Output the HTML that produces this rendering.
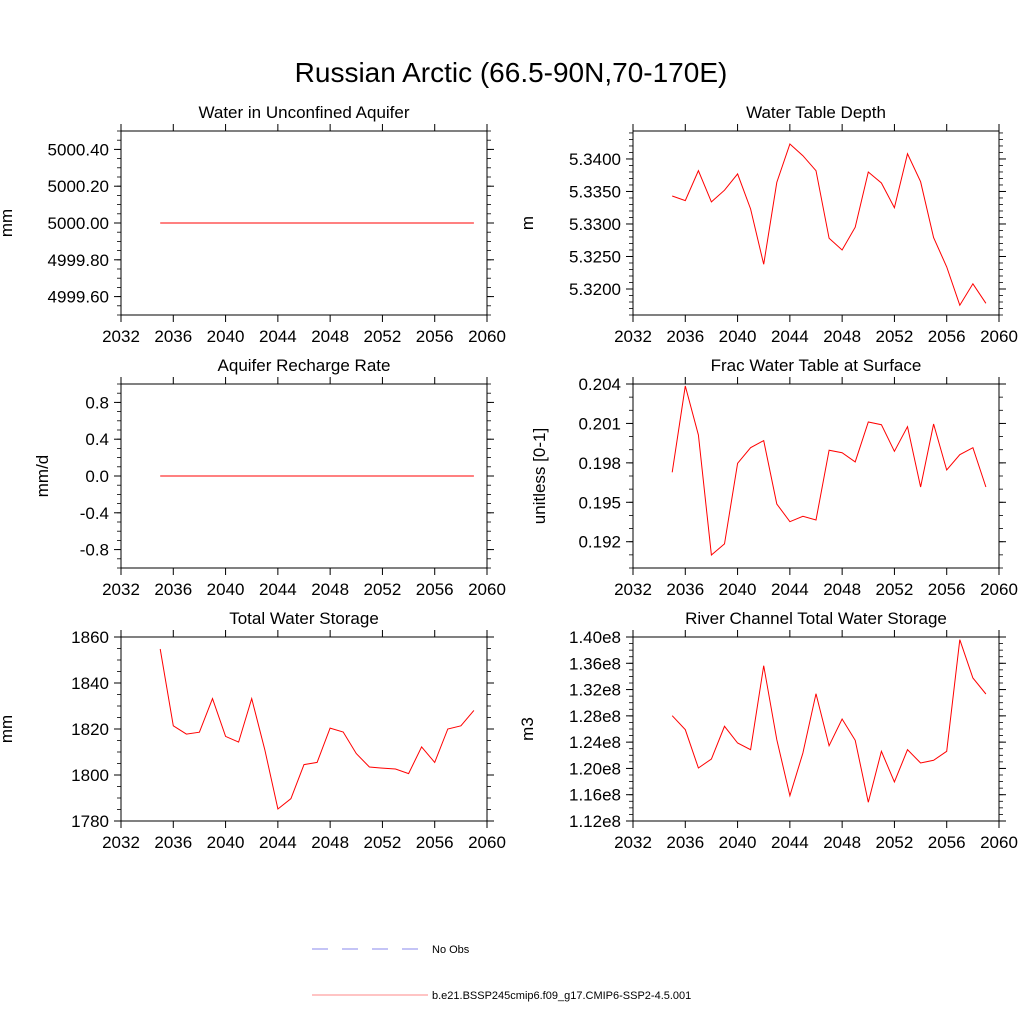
<!DOCTYPE html>
<html><head><meta charset="utf-8"><style>
html,body{margin:0;padding:0;background:#fff;}
svg{display:block;font-family:"Liberation Sans",sans-serif;}
</style></head><body>
<svg id="chart" width="1024" height="1024" viewBox="0 0 1024 1024" xmlns="http://www.w3.org/2000/svg">
<rect width="1024" height="1024" fill="#fff"/>
<text x="511" y="82" font-size="28" text-anchor="middle">Russian Arctic (66.5-90N,70-170E)</text>
<g>
<line x1="312" y1="949" x2="418" y2="949" stroke="#8888ee" stroke-width="1" stroke-dasharray="16,14"/>
<text x="432" y="953" font-size="11">No Obs</text>
<line x1="312" y1="995" x2="428" y2="995" stroke="#f88" stroke-width="1"/>
<text x="432" y="999" font-size="11">b.e21.BSSP245cmip6.f09_g17.CMIP6-SSP2-4.5.001</text>
</g>
</svg>
<script>
const years = [2035,2036,2037,2038,2039,2040,2041,2042,2043,2044,2045,2046,2047,2048,2049,2050,2051,2052,2053,2054,2055,2056,2057,2058,2059];
const xTicks = [2032,2036,2040,2044,2048,2052,2056,2060];
const aquiferValues = [5000,5000,5000,5000,5000,5000,5000,5000,5000,5000,5000,5000,5000,5000,5000,5000,5000,5000,5000,5000,5000,5000,5000,5000,5000];
const aquiferTicks = ["4999.60","4999.80","5000.00","5000.20","5000.40"];
const wtdValues = [5.3343,5.3336,5.3382,5.3334,5.3352,5.3377,5.3323,5.3238,5.3364,5.3423,5.3405,5.3382,5.3278,5.3260,5.3295,5.3380,5.3363,5.3325,5.3408,5.3365,5.3279,5.3234,5.3175,5.3208,5.3178];
const wtdTicks = ["5.3200","5.3250","5.3300","5.3350","5.3400"];
const rechargeValues = [0,0,0,0,0,0,0,0,0,0,0,0,0,0,0,0,0,0,0,0,0,0,0,0,0];
const rechargeTicks = ["-0.8","-0.4","0.0","0.4","0.8"];
const fracValues = [0.19728,0.20385,0.20012,0.19099,0.19183,0.19797,0.19915,0.19969,0.19487,0.19352,0.19393,0.19365,0.19896,0.19877,0.19807,0.20111,0.20090,0.19888,0.20075,0.19616,0.20096,0.19746,0.19862,0.19915,0.19616];
const fracTicks = ["0.192","0.195","0.198","0.201","0.204"];
const twsValues = [1854.8,1821.4,1817.8,1818.6,1833.2,1816.8,1814.3,1833.2,1811.0,1785.2,1789.7,1804.5,1805.5,1820.4,1818.7,1809.3,1803.5,1803.0,1802.6,1800.6,1812.2,1805.5,1820.0,1821.4,1828.1];
const twsTicks = ["1780","1800","1820","1840","1860"];
const riverValues = [1.2802,1.2589,1.2007,1.2144,1.2641,1.2387,1.2285,1.3563,1.2437,1.1585,1.2235,1.3137,1.2346,1.2752,1.2428,1.1485,1.2261,1.1793,1.2285,1.2083,1.2124,1.2261,1.3959,1.3376,1.3133];
const riverTicks = ["1.12e8","1.16e8","1.20e8","1.24e8","1.28e8","1.32e8","1.36e8","1.40e8"];

const NS="http://www.w3.org/2000/svg";
const svg=document.getElementById('chart');
function mk(tag,attrs,parent){const e=document.createElementNS(NS,tag);for(const k in attrs)e.setAttribute(k,attrs[k]);(parent||svg).appendChild(e);return e;}

const panels=[
 {name:'aquifer-water',title:'Water in Unconfined Aquifer',unit:'mm',x0:121,y0:131,vals:aquiferValues,ticks:aquiferTicks,ymin:4999.5,ymax:5000.5,minor:0.05,yl:12},
 {name:'water-table-depth',title:'Water Table Depth',unit:'m',x0:633,y0:131,vals:wtdValues,ticks:wtdTicks,ymin:5.3160,ymax:5.3443,minor:0.001,yl:533},
 {name:'recharge-rate',title:'Aquifer Recharge Rate',unit:'mm/d',x0:121,y0:384,vals:rechargeValues,ticks:rechargeTicks,ymin:-1,ymax:1,minor:0.1,yl:48},
 {name:'frac-water-table',title:'Frac Water Table at Surface',unit:'unitless [0-1]',x0:633,y0:384,vals:fracValues,ticks:fracTicks,ymin:0.1900,ymax:0.2040,minor:0.001,yl:545},
 {name:'total-water-storage',title:'Total Water Storage',unit:'mm',x0:121,y0:637,vals:twsValues,ticks:twsTicks,ymin:1780,ymax:1860,minor:5,yl:12},
 {name:'river-storage',title:'River Channel Total Water Storage',unit:'m3',x0:633,y0:637,vals:riverValues,ticks:riverTicks,ymin:1.12,ymax:1.40,minor:0.01,yl:533}
];
const W=366,H=184;
panels.forEach(p=>{
 const g=mk('g',{});
 
 
 const xs=v=>p.x0+(v-2032)/28*W;
 const ys=v=>p.y0+H-(v-p.ymin)/(p.ymax-p.ymin)*H;
 const t=mk('text',{x:p.x0+W/2,y:p.y0-13,'font-size':17,'text-anchor':'middle'},g);
 t.textContent=p.title;
 
 
 const fr=mk('rect',{x:p.x0,y:p.y0,width:W,height:H,fill:'none',stroke:'#000','stroke-width':1},g);
 
 
 xTicks.forEach(v=>{
  const x=xs(v);
  mk('line',{x1:x,y1:p.y0+H,x2:x,y2:p.y0+H+7,stroke:'#000'},g);
  mk('line',{x1:x,y1:p.y0,x2:x,y2:p.y0-7,stroke:'#000'},g);
  const l=mk('text',{x:x,y:p.y0+H+27,'font-size':17,'text-anchor':'middle'},g);
  l.textContent=v;
  
  
 });
 const start=Math.ceil(p.ymin/p.minor-1e-6);
 for(let i=start;i*p.minor<=p.ymax+1e-9;i++){
  const y=ys(i*p.minor);
  mk('line',{x1:p.x0,y1:y,x2:p.x0-4,y2:y,stroke:'#000','stroke-width':0.8},g);
  mk('line',{x1:p.x0+W,y1:y,x2:p.x0+W+4,y2:y,stroke:'#000','stroke-width':0.8},g);
 }
 p.ticks.forEach(s=>{
  let v=parseFloat(s);
  if(Math.abs(v)>1e6) v=v/1e8;
  const y=ys(v);
  mk('line',{x1:p.x0,y1:y,x2:p.x0-7,y2:y,stroke:'#000'},g);
  mk('line',{x1:p.x0+W,y1:y,x2:p.x0+W+7,y2:y,stroke:'#000'},g);
  const l=mk('text',{x:p.x0-12,y:y+6,'font-size':17,'text-anchor':'end'},g);
  l.textContent=s;
  
  
 });
 const yt=mk('text',{x:p.yl,y:p.y0+H/2,'font-size':17,'text-anchor':'middle',transform:`rotate(-90 ${p.yl} ${p.y0+H/2})`},g);
 yt.textContent=p.unit;
 
 
 const pts=years.map((yr,i)=>xs(yr).toFixed(1)+','+ys(p.vals[i]).toFixed(1)).join(' ');
 const pl=mk('polyline',{points:pts,fill:'none',stroke:'#f00','stroke-width':1},g);
 
 
});
</script>
</body></html>
